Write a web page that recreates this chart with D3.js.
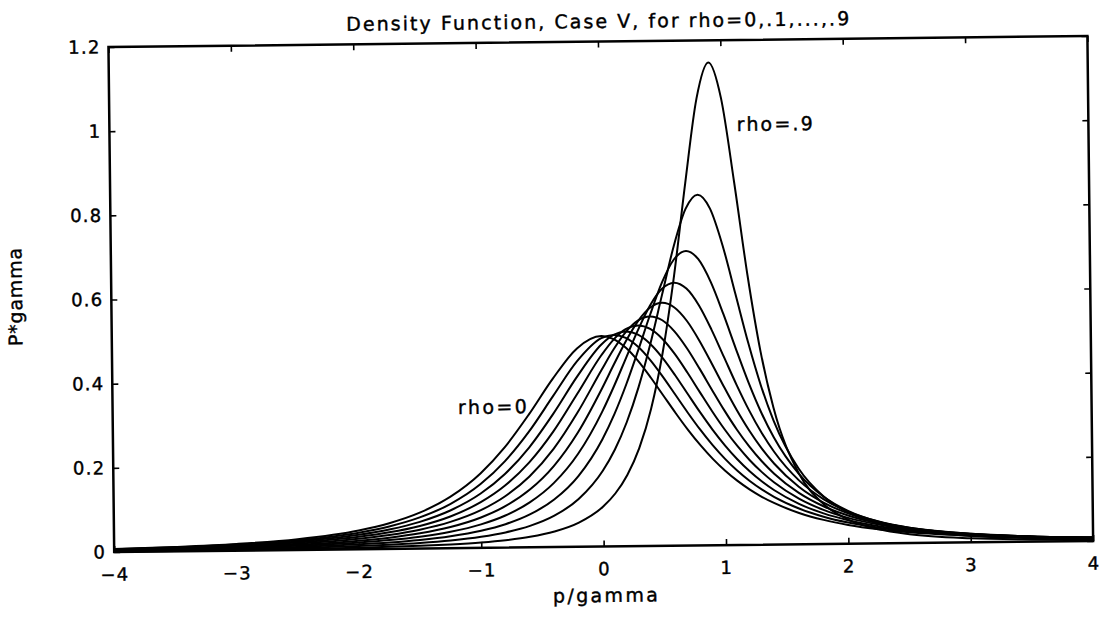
<!DOCTYPE html>
<html>
<head>
<meta charset="utf-8">
<script src="https://cdn.jsdelivr.net/npm/d3@7"></script>
<style>
  html, body { margin: 0; background: #fff; }
  svg { display: block; }
</style>
</head>
<body>
<svg id="chart" width="1100" height="633"></svg>
<script>
// Abscissa grid p/gamma shared by every curve
const pGrid = [-4, -3.5, -3, -2.5, -2, -1.75, -1.5, -1.25, -1, -0.8, -0.6, -0.4, -0.2, 0,
  0.1, 0.2, 0.3, 0.4, 0.5, 0.6, 0.7, 0.8, 0.9, 1.0, 1.1, 1.2, 1.3, 1.4,
  1.6, 1.8, 2.0, 2.25, 2.5, 3, 3.5, 4];

// P*gamma for each rho
const rho0 = [0.0071, 0.0104, 0.0158, 0.0256, 0.0447, 0.0611, 0.0853, 0.1219, 0.1768, 0.2381, 0.3153, 0.4002, 0.4714, 0.5000,
  0.4926, 0.4714, 0.4394, 0.4002, 0.3578, 0.3153, 0.2749, 0.2381, 0.2053, 0.1768, 0.1522, 0.1312, 0.1133, 0.0982,
  0.0744, 0.0573, 0.0447, 0.0335, 0.0256, 0.0158, 0.0104, 0.0071];
const rho1 = [0.0066, 0.0095, 0.0143, 0.0229, 0.0394, 0.0534, 0.0740, 0.1049, 0.1517, 0.2050, 0.2749, 0.3585, 0.4410, 0.4950,
  0.5025, 0.4950, 0.4735, 0.4410, 0.4014, 0.3585, 0.3156, 0.2749, 0.2379, 0.2050, 0.1763, 0.1517, 0.1307, 0.1128,
  0.0849, 0.0648, 0.0502, 0.0372, 0.0282, 0.0172, 0.0111, 0.0076];
const rho2 = [0.0060, 0.0086, 0.0128, 0.0203, 0.0344, 0.0462, 0.0635, 0.0896, 0.1291, 0.1749, 0.2372, 0.3165, 0.4050, 0.4800,
  0.5024, 0.5103, 0.5024, 0.4800, 0.4461, 0.4050, 0.3606, 0.3165, 0.2749, 0.2372, 0.2038, 0.1749, 0.1502, 0.1291,
  0.0962, 0.0727, 0.0558, 0.0409, 0.0307, 0.0184, 0.0118, 0.0079];
const rho3 = [0.0053, 0.0076, 0.0112, 0.0176, 0.0295, 0.0394, 0.0538, 0.0755, 0.1085, 0.1474, 0.2017, 0.2747, 0.3642, 0.4550,
  0.4914, 0.5156, 0.5241, 0.5156, 0.4914, 0.4550, 0.4111, 0.3642, 0.3179, 0.2747, 0.2358, 0.2017, 0.1724, 0.1474,
  0.1085, 0.0810, 0.0614, 0.0445, 0.0330, 0.0194, 0.0122, 0.0082];
const rho4 = [0.0046, 0.0065, 0.0096, 0.0149, 0.0248, 0.0329, 0.0447, 0.0625, 0.0896, 0.1220, 0.1683, 0.2333, 0.3195, 0.4200,
  0.4683, 0.5088, 0.5360, 0.5455, 0.5360, 0.5088, 0.4683, 0.4200, 0.3691, 0.3195, 0.2738, 0.2333, 0.1982, 0.1683,
  0.1220, 0.0896, 0.0670, 0.0477, 0.0349, 0.0201, 0.0124, 0.0082];
const rho5 = [0.0039, 0.0055, 0.0080, 0.0123, 0.0202, 0.0268, 0.0362, 0.0504, 0.0722, 0.0984, 0.1367, 0.1925, 0.2716, 0.3750,
  0.4320, 0.4871, 0.5341, 0.5660, 0.5774, 0.5660, 0.5341, 0.4871, 0.4320, 0.3750, 0.3207, 0.2716, 0.2288, 0.1925,
  0.1367, 0.0984, 0.0722, 0.0504, 0.0362, 0.0202, 0.0123, 0.0080];
const rho6 = [0.0031, 0.0044, 0.0064, 0.0098, 0.0159, 0.0209, 0.0282, 0.0391, 0.0559, 0.0763, 0.1067, 0.1524, 0.2210, 0.3200,
  0.3811, 0.4472, 0.5131, 0.5707, 0.6106, 0.6250, 0.6106, 0.5707, 0.5131, 0.4472, 0.3811, 0.3200, 0.2664, 0.2210,
  0.1524, 0.1067, 0.0763, 0.0519, 0.0365, 0.0198, 0.0118, 0.0075];
const rho7 = [0.0024, 0.0033, 0.0048, 0.0072, 0.0117, 0.0153, 0.0206, 0.0285, 0.0407, 0.0556, 0.0781, 0.1130, 0.1681, 0.2550,
  0.3142, 0.3849, 0.4650, 0.5487, 0.6252, 0.6800, 0.7001, 0.6800, 0.6252, 0.5487, 0.4650, 0.3849, 0.3142, 0.2550,
  0.1681, 0.1130, 0.0781, 0.0513, 0.0351, 0.0183, 0.0106, 0.0066];
const rho8 = [0.0016, 0.0022, 0.0032, 0.0048, 0.0077, 0.0100, 0.0134, 0.0185, 0.0264, 0.0361, 0.0509, 0.0745, 0.1135, 0.1800,
  0.2297, 0.2946, 0.3778, 0.4800, 0.5963, 0.7115, 0.7998, 0.8333, 0.7998, 0.7115, 0.5963, 0.4800, 0.3778, 0.2946,
  0.1800, 0.1135, 0.0745, 0.0466, 0.0307, 0.0152, 0.0085, 0.0052];
const rho9 = [0.0008, 0.0011, 0.0016, 0.0024, 0.0038, 0.0049, 0.0065, 0.0090, 0.0128, 0.0176, 0.0249, 0.0369, 0.0574, 0.0950,
  0.1256, 0.1694, 0.2329, 0.3255, 0.4588, 0.6412, 0.8613, 1.0621, 1.1471, 1.0621, 0.8613, 0.6412, 0.4588, 0.3255,
  0.1694, 0.0950, 0.0574, 0.0333, 0.0208, 0.0096, 0.0052, 0.0031];

const xTicks = [-4, -3, -2, -1, 0, 1, 2, 3, 4];
const yTicks = [0, 0.2, 0.4, 0.6, 0.8, 1.0, 1.2];

const titleText = "Density Function, Case V, for rho=0,.1,...,.9";
const xLabelText = "p/gamma";
const yLabelText = "P*gamma";
const curveNotes = [
  { text: "rho=.9", x: 738.6, y: 132.5, len: 76 },
  { text: "rho=0", x: 456.6, y: 412.4, len: 69 }
];

const series = [rho0, rho1, rho2, rho3, rho4, rho5, rho6, rho7, rho8, rho9];

// Plot frame
const plot = { left: 111.3, right: 1090.3, top: 41.5, bottom: 546.5 };
const FONT = "DejaVu Sans, Verdana, sans-serif";

const x = d3.scaleLinear().domain([-4, 4]).range([plot.left, plot.right]);
const y = d3.scaleLinear().domain([0, 1.2]).range([plot.bottom, plot.top]);

const svg = d3.select("#chart");
svg.append("rect").attr("width", 1100).attr("height", 633).attr("fill", "#fff");

// the whole sheet sits slightly askew
const g = svg.append("g").attr("transform", "rotate(-0.65,600.8,294)");

const line = d3.line()
  .x(d => x(d[0]))
  .y(d => y(d[1]))
  .curve(d3.curveMonotoneX);

g.append("g")
  .selectAll("path")
  .data(series)
  .join("path")
  .attr("d", vals => line(vals.map((v, i) => [pGrid[i], v])))
  .attr("fill", "none")
  .attr("stroke", "#000")
  .attr("stroke-width", 2)
  .attr("stroke-linejoin", "round");

const yFmt = d => String(+d.toFixed(1));

function styleAxis(sel) {
  sel.select(".domain").remove();
  sel.attr("font-family", FONT).attr("font-size", 18);
  sel.selectAll(".tick line").attr("stroke", "#000").attr("stroke-width", 1.6);
  sel.selectAll(".tick text")
    .attr("fill", "#000").attr("letter-spacing", 1.2)
    .attr("stroke", "#000").attr("stroke-width", 0.4);
}

g.append("g")
  .attr("transform", `translate(0,${plot.bottom})`)
  .call(d3.axisBottom(x).tickValues(xTicks).tickSize(-6).tickPadding(16).tickFormat(d3.format("d")))
  .call(styleAxis);

g.append("g")
  .attr("transform", `translate(0,${plot.top})`)
  .call(d3.axisTop(x).tickValues(xTicks).tickSize(-6).tickFormat(""))
  .call(styleAxis);

g.append("g")
  .attr("transform", `translate(${plot.left},0)`)
  .call(d3.axisLeft(y).tickValues(yTicks).tickSize(-6).tickPadding(8).tickFormat(yFmt))
  .call(styleAxis);

g.append("g")
  .attr("transform", `translate(${plot.right},0)`)
  .call(d3.axisRight(y).tickValues(yTicks).tickSize(-6).tickFormat(""))
  .call(styleAxis);

g.append("rect")
  .attr("x", plot.left).attr("y", plot.top)
  .attr("width", plot.right - plot.left).attr("height", plot.bottom - plot.top)
  .attr("fill", "none").attr("stroke", "#000").attr("stroke-width", 2.5);

// Title, axis labels and curve notes share one lettering style
function letter(sel) {
  sel.attr("font-family", FONT).attr("font-size", 19)
    .attr("fill", "#000").attr("stroke", "#000").attr("stroke-width", 0.4)
    .attr("lengthAdjust", "spacing");
}

g.append("text")
  .attr("x", 600.8).attr("y", 28)
  .attr("text-anchor", "middle")
  .attr("textLength", 503)
  .call(letter)
  .text(titleText);

g.append("text")
  .attr("x", 602).attr("y", 602)
  .attr("text-anchor", "middle")
  .attr("textLength", 105)
  .call(letter)
  .text(xLabelText);

g.append("text")
  .attr("transform", "translate(22,290) rotate(-90)")
  .attr("text-anchor", "middle")
  .call(letter)
  .attr("letter-spacing", 0.8)
  .text(yLabelText);

g.append("g")
  .selectAll("text")
  .data(curveNotes)
  .join("text")
  .attr("x", d => d.x).attr("y", d => d.y)
  .attr("textLength", d => d.len)
  .call(letter)
  .text(d => d.text);
</script>
</body>
</html>
